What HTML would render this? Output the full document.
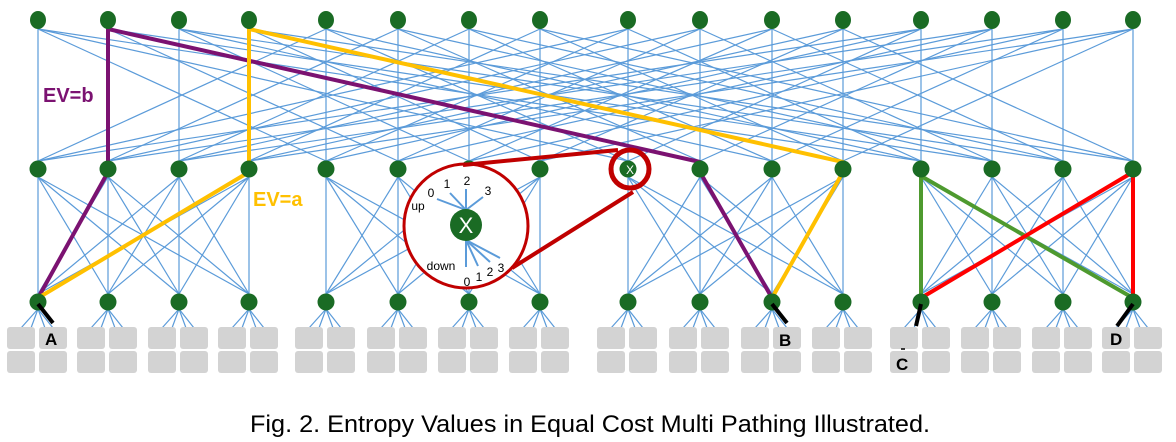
<!DOCTYPE html>
<html><head><meta charset="utf-8"><style>
html,body{margin:0;padding:0;background:#fff;width:1176px;height:442px;overflow:hidden}
svg{display:block}
</style></head><body>
<svg id="s" width="1176" height="442" xmlns="http://www.w3.org/2000/svg">
<g id="blue" stroke="#5b9bd9" stroke-width="1.2" fill="none"></g>
<g id="boxes" fill="#d3d3d3"></g>
<g id="hl" fill="none" stroke-linecap="round">
<line x1="108" y1="22" x2="108" y2="168" stroke="#7b1271" stroke-width="4"/>
<line x1="108" y1="29" x2="700" y2="162" stroke="#7b1271" stroke-width="4"/>
<line x1="108" y1="172" x2="38" y2="298" stroke="#7b1271" stroke-width="4"/>
<line x1="700" y1="172" x2="772" y2="298" stroke="#7b1271" stroke-width="4"/>
<line x1="249" y1="29" x2="249" y2="168" stroke="#ffc000" stroke-width="4"/>
<line x1="249" y1="29" x2="843" y2="162" stroke="#ffc000" stroke-width="4"/>
<line x1="249" y1="172" x2="38" y2="298" stroke="#ffc000" stroke-width="4"/>
<line x1="843" y1="172" x2="772" y2="298" stroke="#ffc000" stroke-width="4"/>
<line x1="921" y1="172" x2="921" y2="298" stroke="#4e9a2f" stroke-width="4"/>
<line x1="921" y1="176" x2="1133" y2="298" stroke="#4e9a2f" stroke-width="4"/>
<line x1="1133" y1="172" x2="921" y2="298" stroke="#ff0000" stroke-width="4"/>
<line x1="1133" y1="172" x2="1133" y2="298" stroke="#ff0000" stroke-width="4"/>
</g>
<g id="nodes" fill="#1a6b24"></g>
<g stroke="#000" stroke-width="4">
<line x1="38" y1="304" x2="53" y2="323"/>
<line x1="772" y1="304" x2="787" y2="323"/>
<line x1="921" y1="304" x2="916" y2="326"/>
<line x1="1133" y1="304" x2="1117" y2="326"/>
</g>
<g font-family="Liberation Sans, sans-serif" font-weight="bold" font-size="17" fill="#000">
<text x="45" y="345">A</text>
<text x="779" y="346">B</text>
<text x="896" y="370">C</text>
<text x="1110" y="345">D</text>
</g>
<line x1="901" y1="349" x2="905" y2="349" stroke="#000" stroke-width="1.5"/>
<text x="43" y="102" font-family="Liberation Sans, sans-serif" font-weight="bold" font-size="20" fill="#7b1271">EV=b</text>
<text x="253" y="206" font-family="Liberation Sans, sans-serif" font-weight="bold" font-size="20" fill="#ffc000">EV=a</text>
<circle cx="466" cy="226" r="62" fill="#fff" stroke="#c00000" stroke-width="3"/>
<line x1="463" y1="165" x2="618" y2="150" stroke="#c00000" stroke-width="4"/>
<line x1="512" y1="268" x2="633" y2="192" stroke="#c00000" stroke-width="4"/>
<circle cx="630" cy="169" r="19" fill="none" stroke="#c00000" stroke-width="5"/>
<g stroke="#5b9bd9" stroke-width="2">
<line x1="466" y1="210" x2="437" y2="199"/>
<line x1="466" y1="210" x2="450" y2="193"/>
<line x1="466" y1="210" x2="466" y2="189"/>
<line x1="466" y1="210" x2="483" y2="197"/>
<line x1="466" y1="240" x2="466" y2="267"/>
<line x1="466" y1="240" x2="478" y2="266"/>
<line x1="466" y1="240" x2="490" y2="262"/>
<line x1="466" y1="240" x2="500" y2="258"/>
</g>
<circle cx="466" cy="225" r="16" fill="#1a6b24"/>
<text x="466" y="233" text-anchor="middle" font-family="Liberation Sans, sans-serif" font-size="22" fill="#fff">X</text>
<g font-family="Liberation Sans, sans-serif" font-size="12" fill="#000" text-anchor="middle">
<text x="431" y="197">0</text><text x="447" y="188">1</text><text x="467" y="185">2</text><text x="488" y="195">3</text>
<text x="418" y="210">up</text><text x="441" y="270">down</text>
<text x="467" y="286">0</text><text x="479" y="281">1</text><text x="490" y="276">2</text><text x="501" y="272">3</text>
</g>
<text x="630" y="174" text-anchor="middle" font-family="Liberation Sans, sans-serif" font-size="12" fill="#fff">X</text>
<text x="250" y="432" font-family="Liberation Sans, sans-serif" font-size="24" fill="#000" textLength="680" lengthAdjust="spacingAndGlyphs">Fig. 2.  Entropy Values in Equal Cost Multi Pathing Illustrated.</text>
</svg>
<script>
var X=[38,108,179,249,326,398,469,540,628,700,772,843,921,992,1063,1133];
var NS="http://www.w3.org/2000/svg";
function el(p,t,a){var e=document.createElementNS(NS,t);for(var k in a)e.setAttribute(k,a[k]);document.getElementById(p).appendChild(e);return e;}
var TY=20,MY=169,EY=302;
for(var i=0;i<16;i++){for(var p=0;p<4;p++){var mx=X[p*4+(i%4)];el("blue","line",{x1:X[i],y1:TY+9,x2:mx,y2:MY-8});}}
for(var p=0;p<4;p++)for(var a=0;a<4;a++)for(var e=0;e<4;e++)el("blue","line",{x1:X[p*4+a],y1:MY+8,x2:X[p*4+e],y2:EY-8});
for(var i=0;i<16;i++){var ex=X[i];[-17,-7,7,15].forEach(function(d){el("blue","line",{x1:ex,y1:EY+7,x2:ex+d,y2:328});});
[[ex-31,327],[ex+1,327],[ex-31,351],[ex+1,351]].forEach(function(b){el("boxes","rect",{x:b[0],y:b[1],width:28,height:22,rx:3});});}
for(var i=0;i<16;i++){el("nodes","ellipse",{cx:X[i],cy:TY,rx:8,ry:9});el("nodes","circle",{cx:X[i],cy:MY,r:8.5});el("nodes","circle",{cx:X[i],cy:EY,r:8.5});}
</script>
</body></html>
